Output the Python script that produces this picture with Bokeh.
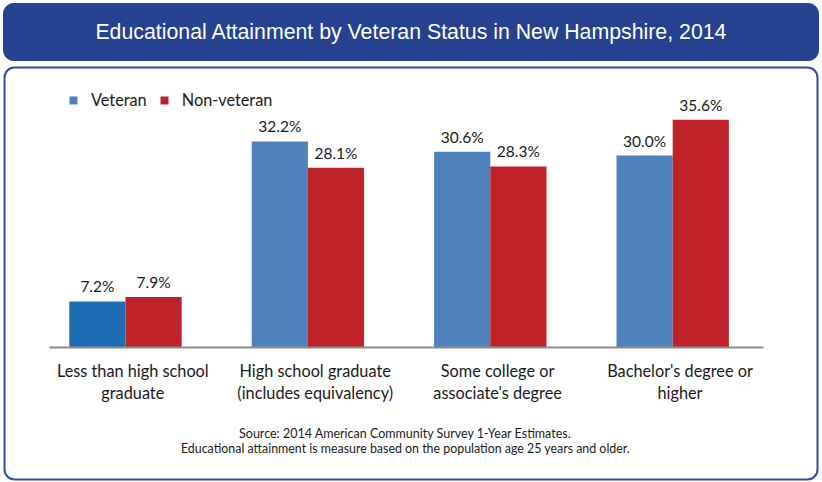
from bokeh.plotting import figure
from bokeh.models import (Range1d, Legend, LegendItem, BoxAnnotation, Label,
                          ColumnDataSource, LinearAxis, FixedTicker)
from bokeh.transform import dodge
from bokeh.core.properties import value
from bokeh.embed import file_html
from bokeh.resources import INLINE

# ---- data ----
categories = ["Less than high school\ngraduate",
              "High school graduate\n(includes equivalency)",
              "Some college or\nassociate's degree",
              "Bachelor's degree or\nhigher"]
veteran = [7.2, 32.2, 30.6, 30.0]
non_veteran = [7.9, 28.1, 28.3, 35.6]
series_names = ["Veteran", "Non-veteran"]
title_text = "Educational Attainment by Veteran Status in New Hampshire, 2014"
source_lines = ["Source: 2014 American Community Survey 1-Year Estimates.",
                "Educational attainment is measure based on the population age 25 years and older."]

# ---- styles ----
vet_colors = ["#1F6EB5", "#4F81BD", "#4F81BD", "#4F81BD"]
nonvet_color = "#C0222A"
banner_color = "#26418F"
box_color = "#2F4DA8"
FONT = "Lato"
TXT = "#1a1a1a"

W, H = 820, 481
idx = list(range(len(categories)))

src = ColumnDataSource(dict(
    idx=idx,
    vet=veteran,
    non=non_veteran,
    vet_lbl=[f"{v:.1f}%" for v in veteran],
    non_lbl=[f"{v:.1f}%" for v in non_veteran],
    vet_col=vet_colors,
))

# the plotting frame covers the whole canvas so that the framing boxes and
# texts are not clipped; ranges put the baseline and groups where they belong
px_per_cat = 182.4
first_cx = 125
px_per_pct = 6.4
base_y = 347
x_rng = Range1d(-first_cx / px_per_cat, (W - first_cx) / px_per_cat)
y_rng = Range1d(-(H - base_y) / px_per_pct, base_y / px_per_pct)

p = figure(width=W, height=H, x_range=x_rng, y_range=y_rng,
           output_backend="svg", toolbar_location=None,
           x_axis_location=None, y_axis_location=None,
           min_border=0)
p.outline_line_color = None
p.background_fill_color = "white"
p.border_fill_color = "white"
p.xgrid.visible = False
p.ygrid.visible = False

bw = 0.308
off = bw / 2
r_vet = p.vbar(x=dodge("idx", -off), top="vet", width=bw,
               source=src, fill_color="vet_col", line_color=None)
r_non = p.vbar(x=dodge("idx", off), top="non", width=bw,
               source=src, fill_color=nonvet_color, line_color=None)

lbl_kw = dict(text_align="center", text_baseline="bottom", y_offset=-6,
              text_font=value(FONT), text_font_size="15.5px", text_color=TXT)
p.text(x=dodge("idx", -off), y="vet", text="vet_lbl", source=src, **lbl_kw)
p.text(x=dodge("idx", off), y="non", text="non_lbl", source=src, **lbl_kw)

# category labels sit slightly right of the group centres in the original
label_shift = 0.04
tick_pos = [i + label_shift for i in idx]
ax = LinearAxis(fixed_location=0, ticker=FixedTicker(ticks=tick_pos),
                major_label_overrides={t: c for t, c in zip(tick_pos, categories)},
                bounds=((49 - first_cx) / px_per_cat, (763 - first_cx) / px_per_cat))
ax.axis_line_color = "#8C8C8C"
ax.axis_line_width = 2
ax.major_tick_line_color = None
ax.minor_tick_line_color = None
ax.major_label_standoff = 7
ax.major_label_text_font = FONT
ax.major_label_text_font_size = "16.3px"
ax.major_label_text_color = TXT
ax.major_label_text_line_height = 1.2
p.add_layout(ax, "below")

# framing (screen units measured from the canvas bottom-left)
banner = BoxAnnotation(left=3, right=818, top=H - 3, bottom=H - 60,
                       left_units="screen", right_units="screen",
                       top_units="screen", bottom_units="screen",
                       fill_color=banner_color, fill_alpha=1,
                       line_color=banner_color, line_alpha=1, line_width=1,
                       border_radius=10)
p.add_layout(banner)
outer = BoxAnnotation(left=4, right=817, top=H - 67, bottom=H - 479,
                      left_units="screen", right_units="screen",
                      top_units="screen", bottom_units="screen",
                      fill_alpha=0, line_color=box_color, line_alpha=1, line_width=2,
                      border_radius=10)
p.add_layout(outer)

p.add_layout(Label(x=411, y=H - 31, x_units="screen", y_units="screen", text=title_text,
                   text_align="center", text_baseline="middle",
                   text_font="Liberation Sans", text_font_size="21.3px", text_color="white"))
p.add_layout(Label(x=405, y=H - 433, x_units="screen", y_units="screen", text=source_lines[0],
                   text_align="center", text_baseline="middle",
                   text_font=FONT, text_font_size="12.5px", text_color=TXT))
p.add_layout(Label(x=405, y=H - 448, x_units="screen", y_units="screen", text=source_lines[1],
                   text_align="center", text_baseline="middle",
                   text_font=FONT, text_font_size="12.4px", text_color=TXT))

legend = Legend(items=[LegendItem(label=series_names[0], renderers=[r_vet], index=1),
                       LegendItem(label=series_names[1], renderers=[r_non])],
                orientation="horizontal", location=(68, H - 109),
                glyph_width=10, glyph_height=10, label_standoff=13, spacing=12,
                padding=0, margin=0, border_line_alpha=0, background_fill_alpha=0,
                label_text_font=FONT, label_text_font_size="16.3px",
                label_text_color=TXT)
p.add_layout(legend)

open("out.html", "w").write(file_html(p, INLINE))
